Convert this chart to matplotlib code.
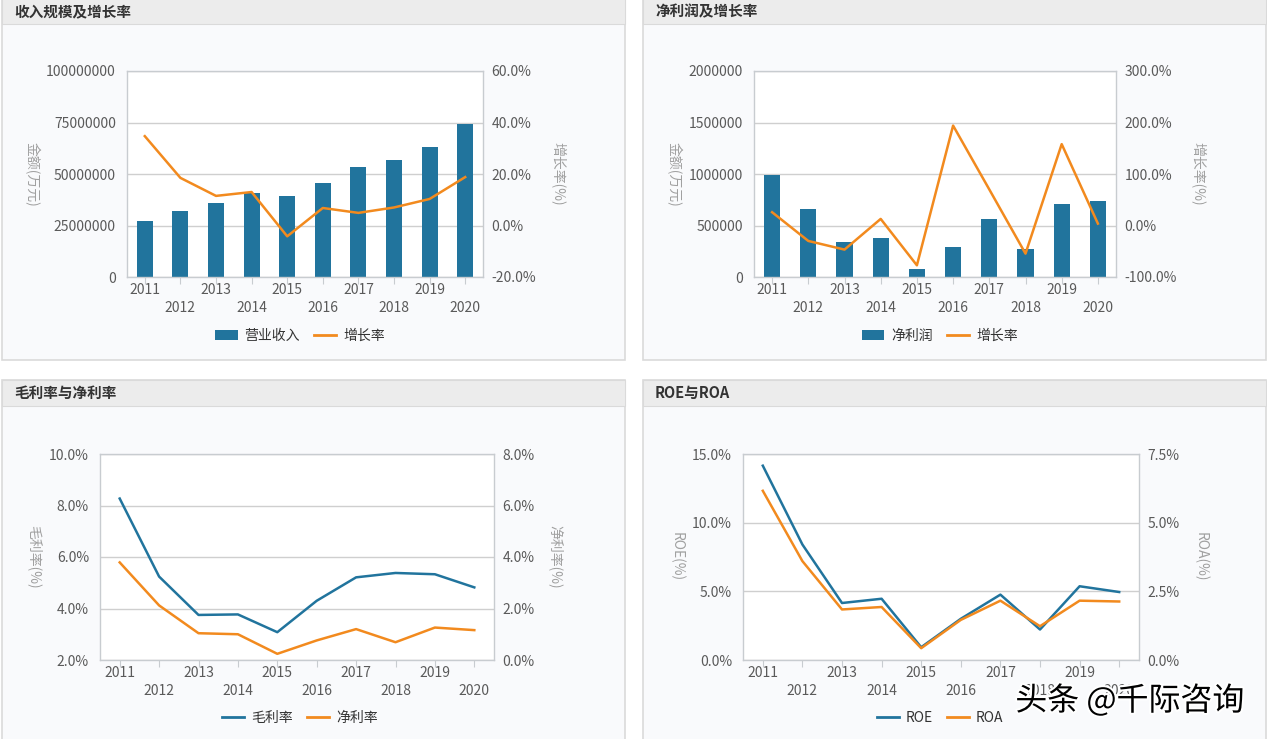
import matplotlib
matplotlib.use("Agg")
import matplotlib.pyplot as plt
from matplotlib.patches import Rectangle, Patch
from matplotlib.lines import Line2D
import matplotlib.patheffects as pe

plt.rcParams['font.family'] = ['Noto Sans CJK SC', 'DejaVu Sans']

years = ['2011', '2012', '2013', '2014', '2015', '2016', '2017', '2018', '2019', '2020']
revenue = [27100000, 31900000, 35800000, 40700000, 39500000, 45500000, 53600000, 56900000, 62900000, 74200000]
revenue_growth = [34.7, 18.5, 11.5, 13.0, -4.2, 6.8, 4.9, 7.0, 10.3, 18.8]
net_profit = [988000, 658000, 337000, 379000, 75000, 292000, 561000, 269000, 713000, 736000]
profit_growth = [25.8, -30.0, -46.8, 12.8, -77.3, 194.0, 70.0, -54.6, 158.0, 3.7]
gross_margin = [8.27, 5.24, 3.75, 3.77, 3.08, 4.30, 5.21, 5.38, 5.33, 4.82]
net_margin = [3.79, 2.12, 1.04, 1.00, 0.24, 0.76, 1.20, 0.69, 1.26, 1.16]
roe = [14.15, 8.41, 4.15, 4.46, 0.93, 3.00, 4.76, 2.22, 5.37, 4.95]
roa = [6.16, 3.60, 1.84, 1.93, 0.43, 1.46, 2.16, 1.23, 2.16, 2.13]

W, H = 1267, 739
BLUE = '#21749d'
ORANGE = '#f28a1e'
TICK = '#5a5a5a'
LAB = '#a0a0a0'
GRID = '#cfcfcf'

fig = plt.figure(figsize=(W / 100, H / 100), dpi=100)
fig.patch.set_facecolor('white')


def fx(x):
    return x / W


def fy(y):
    return 1 - y / H


def panel(x0, y0, x1, y1, title):
    fig.patches.append(Rectangle((fx(x0), fy(y1)), fx(x1 - x0), (y1 - y0) / H,
                                 transform=fig.transFigure, facecolor='#f9fafc',
                                 edgecolor='#dadada', linewidth=1.2, zorder=-5))
    fig.patches.append(Rectangle((fx(x0), fy(y0 + 26)), fx(x1 - x0), 26 / H,
                                 transform=fig.transFigure, facecolor='#ececec',
                                 edgecolor='#dadada', linewidth=0.8, zorder=-4))
    fig.text(fx(x0 + 12), fy(y0 + 13), title, fontsize=10.5, fontweight='bold',
             color='#333333', va='center', ha='left')


def make_axes(l, t, r, b):
    ax = fig.add_axes([fx(l), fy(b), fx(r - l), (b - t) / H])
    ax.set_facecolor('white')
    for s in ax.spines.values():
        s.set_color('#c8ccd0')
        s.set_linewidth(1.0)
    ax.set_xlim(-0.5, 9.5)
    ax.set_xticks(range(len(years)))
    ax.set_xticklabels([y if i % 2 == 0 else '\n' + y for i, y in enumerate(years)],
                       fontsize=10, color=TICK, linespacing=1.4)
    ax.tick_params(axis='x', length=5, color='#c8ccd0', pad=-1)
    ax.tick_params(axis='y', length=0, labelsize=10, labelcolor=TICK, pad=8)
    ax.grid(axis='y', color=GRID, linewidth=1.0)
    ax.set_axisbelow(True)
    ax2 = ax.twinx()
    for s in ax2.spines.values():
        s.set_visible(False)
    ax2.tick_params(axis='y', length=0, labelsize=10, labelcolor=TICK, pad=6)
    return ax, ax2


def pct(ax, fmt='{:.1f}%'):
    ax.set_yticklabels([fmt.format(v) for v in ax.get_yticks()])


def ylabels(ax, ax2, left, right):
    ax.set_ylabel(left, rotation=-90, color=LAB, fontsize=10, labelpad=16, va='bottom')
    ax2.set_ylabel(right, rotation=-90, color=LAB, fontsize=10, labelpad=10, va='bottom')


def legend(cx, cy, handles, labels):
    fig.legend(handles, labels, loc='center', bbox_to_anchor=(fx(cx), fy(cy)),
               ncol=2, frameon=False, fontsize=10, labelcolor='#333333',
               handlelength=1.6, handletextpad=0.5, columnspacing=1.0)


# Panel 1
panel(2, -2, 625, 360, '收入规模及增长率')
ax, ax2 = make_axes(127, 71, 483, 277)
ax.bar(range(10), revenue, width=0.45, color=BLUE, zorder=2)
ax.set_ylim(0, 100000000)
ax.set_yticks([0, 25000000, 50000000, 75000000, 100000000])
ax.set_yticklabels(['0', '25000000', '50000000', '75000000', '100000000'])
ax2.plot(range(10), revenue_growth, color=ORANGE, linewidth=1.8)
ax2.set_ylim(-20, 60)
ax2.set_yticks([-20, 0, 20, 40, 60])
pct(ax2)
ylabels(ax, ax2, '金额(万元)', '增长率(%)')
legend(300, 336, [Patch(facecolor=BLUE), Line2D([], [], color=ORANGE, lw=2)], ['营业收入', '增长率'])

# Panel 2
panel(643, -2, 1266, 360, '净利润及增长率')
ax, ax2 = make_axes(754, 71, 1116, 277)
ax.bar(range(10), net_profit, width=0.45, color=BLUE, zorder=2)
ax.set_ylim(0, 2000000)
ax.set_yticks([0, 500000, 1000000, 1500000, 2000000])
ax.set_yticklabels(['0', '500000', '1000000', '1500000', '2000000'])
ax2.plot(range(10), profit_growth, color=ORANGE, linewidth=1.8)
ax2.set_ylim(-100, 300)
ax2.set_yticks([-100, 0, 100, 200, 300])
pct(ax2)
ylabels(ax, ax2, '金额(万元)', '增长率(%)')
legend(940, 336, [Patch(facecolor=BLUE), Line2D([], [], color=ORANGE, lw=2)], ['净利润', '增长率'])

# Panel 3
panel(2, 380, 625, 741, '毛利率与净利率')
ax, ax2 = make_axes(100, 454, 494, 660)
ax.plot(range(10), gross_margin, color=BLUE, linewidth=1.8)
ax.set_ylim(2, 10)
ax.set_yticks([2, 4, 6, 8, 10])
pct(ax)
ax2.plot(range(10), net_margin, color=ORANGE, linewidth=1.8)
ax2.set_ylim(0, 8)
ax2.set_yticks([0, 2, 4, 6, 8])
pct(ax2)
ylabels(ax, ax2, '毛利率(%)', '净利率(%)')
legend(300, 718, [Line2D([], [], color=BLUE, lw=2), Line2D([], [], color=ORANGE, lw=2)], ['毛利率', '净利率'])

# Panel 4
panel(643, 380, 1266, 741, 'ROE与ROA')
ax, ax2 = make_axes(743, 454, 1139, 660)
ax.plot(range(10), roe, color=BLUE, linewidth=1.8)
ax.set_ylim(0, 15)
ax.set_yticks([0, 5, 10, 15])
pct(ax)
ax2.plot(range(10), roa, color=ORANGE, linewidth=1.8)
ax2.set_ylim(0, 7.5)
ax2.set_yticks([0, 2.5, 5, 7.5])
pct(ax2)
ylabels(ax, ax2, 'ROE(%)', 'ROA(%)')
legend(940, 718, [Line2D([], [], color=BLUE, lw=2), Line2D([], [], color=ORANGE, lw=2)], ['ROE', 'ROA'])

# Watermark
fig.text(fx(1130), fy(701), '头条 @千际咨询', fontsize=23, color='black', ha='center', va='center',
         path_effects=[pe.withStroke(linewidth=3, foreground='white')], zorder=10)

fig.savefig('out.png', dpi=100, facecolor='white')
